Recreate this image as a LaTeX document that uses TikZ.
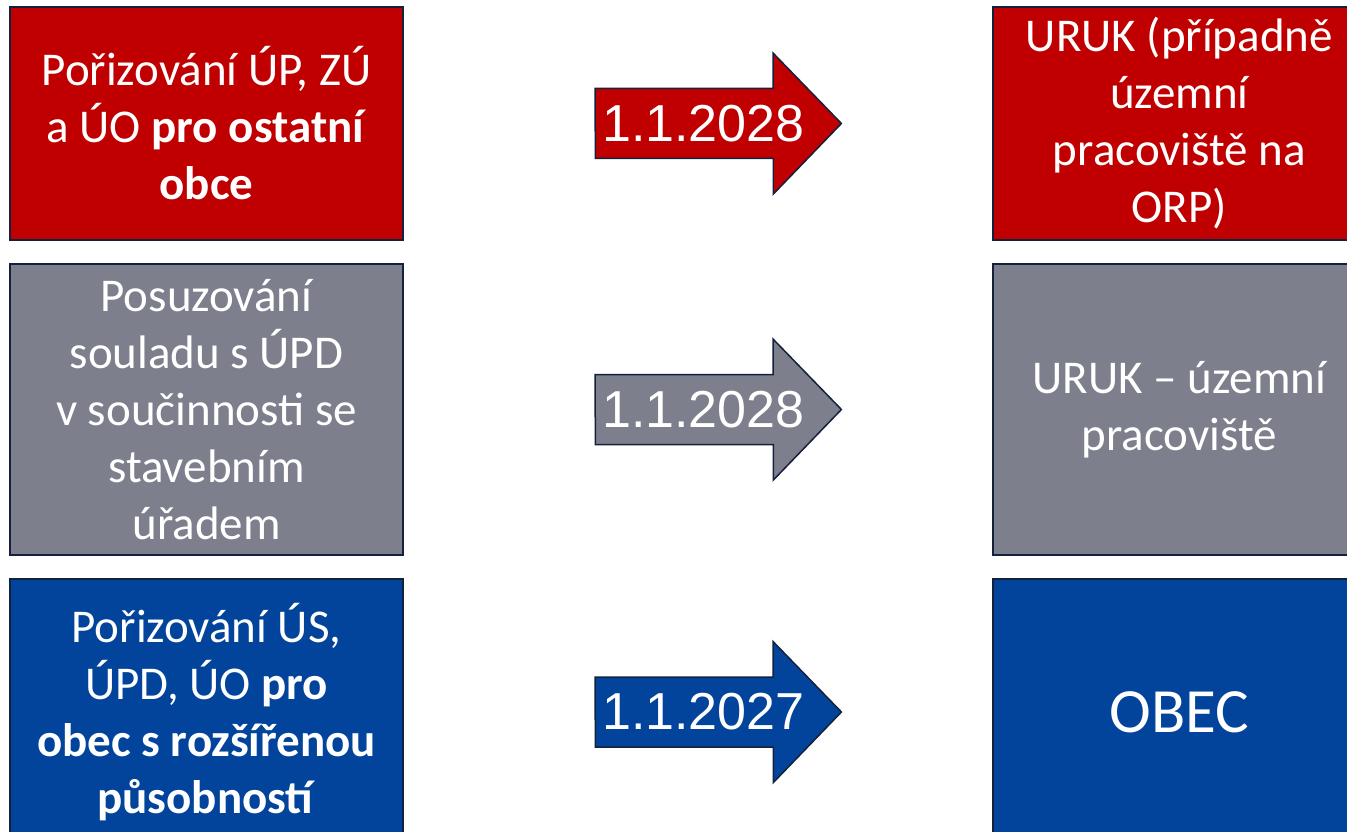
\documentclass[tikz,border=0pt]{standalone}
\usepackage{fontspec}
\setmainfont{Carlito}
\newfontfamily\arialfont{Liberation Sans}
\usepackage{xcolor}
\usetikzlibrary{positioning, backgrounds}
\definecolor{cervena}{HTML}{C00000}
\definecolor{seda}{HTML}{7D7F8D}
\definecolor{modra}{HTML}{02449B}
\definecolor{okraj}{HTML}{14213D}
\tikzstyle{agenda} = [rectangle, minimum width=393pt, align=center, inner sep=0pt, draw=okraj, line width=2pt, text=white, font=\fontsize{47}{57}\selectfont]
\tikzstyle{urad} = [agenda, minimum width=372pt]
\tikzstyle{datum} = [rectangle, minimum width=246pt, minimum height=141pt, inner xsep=7pt, inner ysep=0pt, text width=232pt, align=left, text=white, font=\arialfont\fontsize{52}{52}\selectfont]
\tikzstyle{sipka} = [line width=1.5pt, draw=okraj]
% sipka kolem uzlu s datem
\newcommand{\sipka}[2]{\filldraw[sipka, fill=#2] (#1.west) ++(0,35pt) -- ++(178pt,0) -- ++(0,35.5pt) -- (#1.east) -- ++(-68pt,-70.5pt) -- ++(0,35.5pt) -- ++(-178pt,0) -- cycle;}

\begin{document}
\begin{tikzpicture}

        \useasboundingbox (0,0) rectangle (1347pt,-832pt);
        \clip (0,0) rectangle (1347pt,-832pt);

        % Agendy (vlevo)
        \node (porizovaniUP) [agenda, fill=cervena, minimum height=233pt] at (206.5pt,-123.5pt) {Pořizování ÚP, ZÚ \\ a ÚO \textbf{pro ostatní} \\ \textbf{obce}};
        \node (posuzovaniUPD) [agenda, fill=seda, minimum height=291pt, below=22pt of porizovaniUP] {Posuzování \\ souladu s ÚPD \\ v součinnosti se \\ stavebním \\ úřadem};
        \node (porizovaniUS) [agenda, fill=modra, minimum height=266pt, below=22pt of posuzovaniUPD] {Pořizování ÚS, \\ ÚPD, ÚO \textbf{pro} \\ \textbf{obec s rozšířenou} \\ \textbf{působností}};

        % Data
        \node (datumUP) [datum, right=191pt of porizovaniUP] {1.1.2028};
        \node (datumUPD) [datum, right=191pt of posuzovaniUPD] {1.1.2028};
        \node (datumUS) [datum, right=191pt of porizovaniUS] {1.1.2027};

        \begin{pgfonlayer}{background}
            \sipka{datumUP}{cervena}
            \sipka{datumUPD}{seda}
            \sipka{datumUS}{modra}
        \end{pgfonlayer}

        % Nove urady (vpravo)
        \node (urukORP) [urad, fill=cervena, minimum height=233pt, right=151pt of datumUP] {URUK (případně \\ územní \\ pracoviště na \\ ORP)};
        \node (urukPracoviste) [urad, fill=seda, minimum height=291pt, right=151pt of datumUPD] {URUK – územní \\ pracoviště};
        \node (obec) [urad, fill=modra, minimum height=266pt, right=151pt of datumUS, font=\fontsize{63}{70}\selectfont] {OBEC};

    \end{tikzpicture}
\end{document}
